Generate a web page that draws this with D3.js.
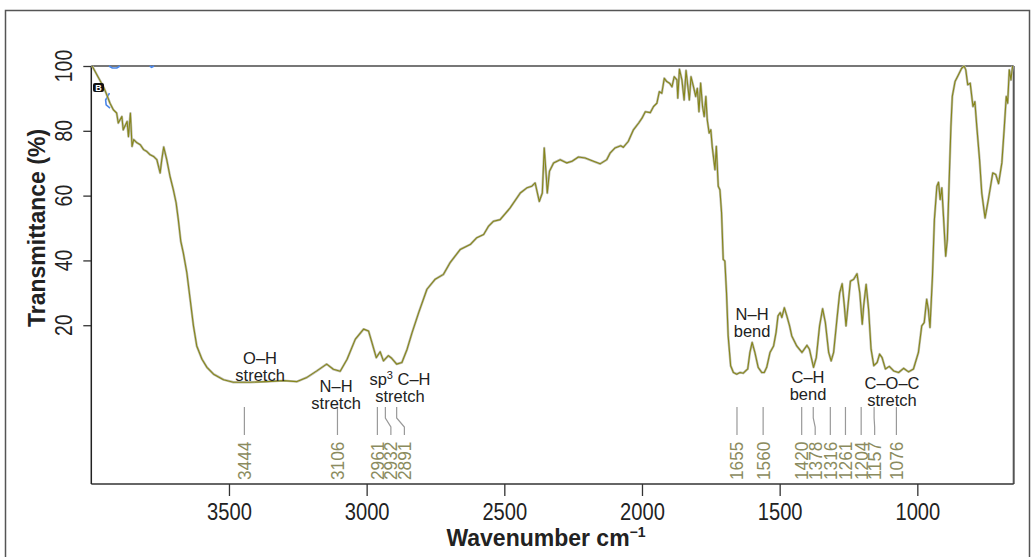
<!DOCTYPE html>
<html>
<head>
<meta charset="utf-8">
<script src="https://cdn.jsdelivr.net/npm/d3@7"></script>
<style>
  body { margin: 0; background: #fff; }
  svg { display: block; }
  text { font-family: "Liberation Sans", Arial, sans-serif; }
</style>
</head>
<body>
<svg id="chart" width="1035" height="557"></svg>
<script>
// FTIR spectrum: [wavenumber cm-1, transmittance %]
const spectrum = [
  [3997,100],[3956,93.6],[3946,91.6],[3932,88.5],[3920,86.5],[3908,85.5],[3902,82.4],[3889,84.4],
  [3884,80.3],[3870,82.9],[3865,78.2],[3858,85.4],[3852,75.2],[3846,77.3],[3834,76.3],[3822,75.7],
  [3810,74.2],[3798,73.6],[3786,72.6],[3774,72.1],[3762,71.1],[3750,67],[3744,71.1],[3737,75],
  [3726,71.1],[3714,65.9],[3702,61.8],[3692,57.8],[3684,52.6],[3675,45.9],[3666,42.4],[3653,36.2],
  [3641,28],[3629,19.8],[3617,13.6],[3598,9.5],[3580,7],[3556,4.9],[3520,3.2],[3484,2.4],
  [3423,2.4],[3362,2.6],[3302,2.9],[3253,2.6],[3217,3.9],[3181,5.9],[3145,8],[3121,6.4],
  [3096,5.8],[3071,9.5],[3041,15.7],[3011,18.8],[2993,18.2],[2981,14.7],[2965,10],[2951,11.8],
  [2939,9],[2921,10.6],[2909,9.8],[2891,8],[2872,8.5],[2853,12.6],[2835,17.7],[2811,23.9],
  [2781,31.1],[2751,34.2],[2721,35.7],[2697,39.3],[2660,43.4],[2624,44.9],[2600,47],[2575,48],
  [2557,50.6],[2539,52.1],[2515,52.6],[2479,56.2],[2442,60.8],[2418,62.4],[2400,62.9],[2388,63.9],
  [2373,58.2],[2362,60.8],[2355,74.7],[2348,66.5],[2344,60.8],[2336,67.5],[2321,70.1],[2297,71.1],
  [2273,70.1],[2254,70.6],[2231,71.9],[2206,71.6],[2176,70.6],[2152,69.8],[2128,71.1],[2116,73.1],
  [2098,74.7],[2077,75.4],[2068,74.9],[2050,76.7],[2031,80.3],[2012,82.4],[2000,83.9],[1988,85.9],
  [1970,85.6],[1958,87.5],[1946,88.5],[1937,92.1],[1928,91.6],[1919,96.2],[1910,95.2],[1900,94.7],
  [1891,93.6],[1883,96.7],[1873,95.7],[1870,90.1],[1864,99],[1855,95.7],[1847,89.5],[1840,98.6],
  [1832,92.6],[1828,89.5],[1822,96.7],[1813,93.6],[1805,90.6],[1799,93.1],[1793,85.9],[1787,94.7],
  [1780,87.5],[1774,84.4],[1768,90.6],[1763,83.4],[1756,79.3],[1750,80.3],[1745,75.2],[1735,68],
  [1730,75.2],[1723,62.9],[1717,61.8],[1711,54.7],[1705,40.3],[1699,39.8],[1693,30],[1687,16.7],
  [1678,7.5],[1668,5.4],[1656,4.9],[1644,5.4],[1632,5.2],[1616,6.5],[1608,11.6],[1600,14.7],
  [1590,11.6],[1578,7],[1565,5.4],[1556,5.4],[1547,7],[1535,11.6],[1522,13.6],[1513,17.8],
  [1506,22.9],[1498,23.9],[1492,22.4],[1483,25.4],[1474,22.9],[1464,19.8],[1456,16.7],[1438,13.6],
  [1419,11.6],[1401,13.8],[1392,12.6],[1377,7],[1367,10],[1355,19.8],[1344,25.1],[1334,20.8],
  [1322,11.6],[1313,9],[1304,11.6],[1292,21.8],[1282,30],[1273,32.8],[1265,25.9],[1259,19.8],
  [1252,25.9],[1243,33.6],[1231,34.2],[1219,35.9],[1209,30],[1200,20.3],[1195,25.9],[1186,32.6],
  [1177,24.9],[1168,12.6],[1158,7.5],[1146,8.5],[1137,11.1],[1128,10],[1116,6.5],[1102,7.3],
  [1086,5.9],[1068,5.4],[1050,6.7],[1032,5.6],[1014,6.5],[996,11.6],[984,19.8],[975,20.8],
  [966,28],[960,24.9],[954,19.3],[945,35.2],[938,52.6],[929,62.9],[923,64.1],[917,58.8],
  [911,62.4],[905,53.6],[897,41.3],[891,46.5],[885,62.9],[878,81.3],[873,90.6],[863,95.2],
  [851,97.2],[839,99.3],[830,100],[824,98.8],[817,94.2],[808,94.7],[798,87.5],[791,89],
  [784,81.3],[774,71.1],[766,60.8],[754,53.1],[742,58.8],[726,67],[715,66.5],[705,63.7],
  [693,70.1],[684,81.3],[677,90.6],[672,88.5],[666,98.8],[660,95.7],[654,100]
];

// second (blue) trace, visible only in a few spots near the top left
const blueTrace = [
  [3936,100],[3924,99.4],[3907,99.4],[3896,100], null,
  [3788,100],[3781,99.6],[3772,100], null,
  [3934,91.6],[3948,89.5],[3946,88],[3932,87]
];

const peaks = [3444, 3106, 2961, 2932, 2891, 1655, 1560, 1420, 1378, 1316, 1261, 1204, 1157, 1076];

// band labels anchored in data coordinates (centre of the first line)
const bandLabels = [
  { lines: ['O\u2013H', 'stretch'], wn: 3387, t: 9.9 },
  { lines: ['N\u2013H', 'stretch'], wn: 3111, t: 1.2 },
  { lines: ['sp\u00b3 C\u2013H', 'stretch'], wn: 2879, t: 3.4, sup: true },
  { lines: ['N\u2013H', 'bend'], wn: 1600, t: 23.5 },
  { lines: ['C\u2013H', 'bend'], wn: 1397, t: 4.0 },
  { lines: ['C\u2013O\u2013C', 'stretch'], wn: 1092, t: 2.2 }
];

const xTicks = [3500, 3000, 2500, 2000, 1500, 1000];
const yTicks = [20, 40, 60, 80, 100];

const plotLeft = 91.3, plotRight = 1013.7, plotTop = 66, plotBottom = 484;
const x = d3.scaleLinear().domain([4000, 650]).range([plotLeft, plotRight]);
const y = d3.scaleLinear().domain([-29, 100]).range([plotBottom, plotTop]);

const svg = d3.select('#chart');

// condensed look of the original figure's numerals
function condense(sel, perChar) {
  sel.attr('textLength', function () { return this.textContent.length * perChar; })
    .attr('lengthAdjust', 'spacingAndGlyphs');
}

// outer frame
svg.append('rect')
  .attr('x', 5.5).attr('y', 10.5).attr('width', 1024).attr('height', 600)
  .attr('fill', 'none').attr('stroke', '#555').attr('stroke-width', 1.5);

// plot frame: top and right grey, left and bottom axes dark
svg.append('line').attr('x1', plotLeft).attr('x2', plotRight).attr('y1', plotTop).attr('y2', plotTop)
  .attr('stroke', '#777').attr('stroke-width', 2);
svg.append('line').attr('x1', plotRight).attr('x2', plotRight).attr('y1', plotTop).attr('y2', plotBottom)
  .attr('stroke', '#555').attr('stroke-width', 2);

// x axis
let xAxis = svg.append('g')
  .attr('transform', 'translate(0,' + plotBottom + ')')
  .call(d3.axisBottom(x).tickValues(xTicks).tickSize(12).tickPadding(8).tickFormat(d3.format('d')));
xAxis.select('.domain').remove();
xAxis.selectAll('line').attr('stroke', '#333').attr('stroke-width', 1.3);
xAxis.selectAll('text').attr('font-size', 23).attr('fill', '#222').call(condense, 11.2);
svg.append('line').attr('x1', plotLeft).attr('x2', plotRight).attr('y1', plotBottom).attr('y2', plotBottom)
  .attr('stroke', '#333').attr('stroke-width', 1.5);

// y axis
let yAxis = svg.append('g')
  .attr('transform', 'translate(' + plotLeft + ',0)')
  .call(d3.axisLeft(y).tickValues(yTicks).tickSize(8).tickFormat(''));
yAxis.select('.domain').remove();
yAxis.selectAll('line').attr('stroke', '#333').attr('stroke-width', 1.3);
svg.selectAll('.ylab').data(yTicks).enter().append('text')
  .attr('class', 'ylab')
  .attr('transform', d => 'translate(72,' + y(d) + ') rotate(-90)')
  .attr('text-anchor', 'middle')
  .attr('font-size', 23).attr('fill', '#222')
  .text(d => d)
  .call(condense, 10.8);
svg.append('line').attr('x1', plotLeft).attr('x2', plotLeft).attr('y1', plotTop).attr('y2', plotBottom)
  .attr('stroke', '#222').attr('stroke-width', 1.5);

// axis titles
svg.append('text')
  .attr('transform', 'translate(45,' + ((y(0) + y(100)) / 2) + ') rotate(-90)')
  .attr('text-anchor', 'middle').attr('font-weight', 'bold').attr('font-size', 23).attr('fill', '#222')
  .text('Transmittance (%)');
let xt = svg.append('text')
  .attr('x', 546).attr('y', 546)
  .attr('text-anchor', 'middle').attr('font-weight', 'bold').attr('font-size', 23).attr('fill', '#222');
xt.append('tspan').text('Wavenumber cm');
xt.append('tspan').attr('dy', -9).attr('font-size', 14).text('\u22121');

// spectrum
let line = d3.line().defined(d => d != null).x(d => x(d[0])).y(d => y(d[1]));
svg.append('path').datum(blueTrace).attr('d', line)
  .attr('fill', 'none').attr('stroke', '#4a86e8').attr('stroke-width', 1.6);
svg.append('path').datum(spectrum).attr('d', line)
  .attr('fill', 'none').attr('stroke', '#bdbdb0').attr('stroke-width', 2.4).attr('stroke-linejoin', 'round');
svg.append('path').datum(spectrum).attr('d', line)
  .attr('fill', 'none').attr('stroke', '#86861a').attr('stroke-width', 1.1).attr('stroke-linejoin', 'round');

// "B" marker in the corner
svg.append('rect').attr('x', 93).attr('y', 83).attr('width', 11).attr('height', 9).attr('rx', 2)
  .attr('fill', '#111');
svg.append('text').attr('x', 98.5).attr('y', 91).attr('text-anchor', 'middle')
  .attr('font-size', 9).attr('font-weight', 'bold').attr('fill', '#fff').text('B');

// peak labels: spread so rotated labels do not collide
let labelX = [], minGap = 13.5;
peaks.forEach((p, i) => {
  let px = x(p);
  if (i > 0 && px - labelX[i - 1] < minGap) px = labelX[i - 1] + minGap;
  labelX.push(px);
});
svg.selectAll('.leader').data(peaks).enter().append('path')
  .attr('class', 'leader')
  .attr('d', (d, i) => 'M' + x(d) + ',407V418L' + labelX[i] + ',427V435')
  .attr('fill', 'none').attr('stroke', '#999').attr('stroke-width', 1.2);
svg.selectAll('.peak').data(peaks).enter().append('text')
  .attr('class', 'peak')
  .attr('transform', (d, i) => 'translate(' + labelX[i] + ',480) rotate(-90)')
  .attr('dy', '0.36em')
  .attr('font-size', 18).attr('fill', '#8b8b5e')
  .text(d => d)
  .call(condense, 9.6);

// band annotations, one text per line
bandLabels.forEach(b => {
  b.lines.forEach((s, i) => {
    let t = svg.append('text')
      .attr('x', x(b.wn)).attr('y', y(b.t) + 6 + i * 17)
      .attr('text-anchor', 'middle').attr('font-size', 16.5).attr('fill', '#222');
    if (b.sup && i == 0) {
      t.append('tspan').text('sp');
      t.append('tspan').attr('font-size', 11).attr('dy', -6).text('3');
      t.append('tspan').attr('dy', 6).text(' C\u2013H');
    } else {
      t.text(s);
    }
  });
});
</script>
</body>
</html>
